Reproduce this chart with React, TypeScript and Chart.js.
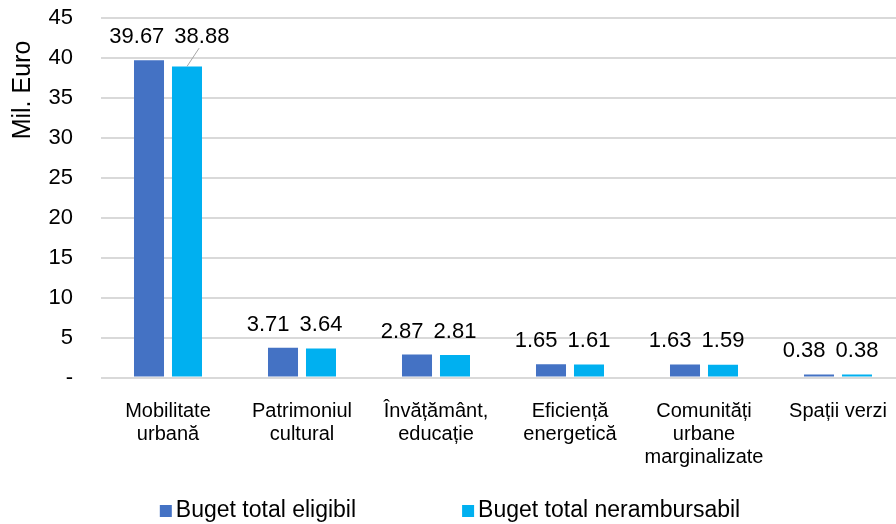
import React, { useEffect, useRef } from "react";
import { Chart, registerables } from "chart.js";

Chart.register(...registerables);

const categories: string[][] = [
  ["Mobilitate", "urbană"],
  ["Patrimoniul", "cultural"],
  ["Învățământ,", "educație"],
  ["Eficiență", "energetică"],
  ["Comunități", "urbane", "marginalizate"],
  ["Spații verzi"],
];
const bugetEligibil = [39.67, 3.71, 2.87, 1.65, 1.63, 0.38];
const bugetNerambursabil = [38.88, 3.64, 2.81, 1.61, 1.59, 0.38];
const seriesNames = ["Buget total eligibil", "Buget total nerambursabil"];
const seriesColors = ["#4472C4", "#00B0F0"];
const yMin = 0;
const yMax = 45;
const yStep = 5;
const yTitle = "Mil. Euro";

const FONT = '"Liberation Sans", Arial, sans-serif';

const valueLabelsPlugin = {
  id: "valueLabels",
  afterDatasetsDraw(chart: any) {
    const ctx = chart.ctx;
    const m0 = chart.getDatasetMeta(0);
    const m1 = chart.getDatasetMeta(1);
    const d0 = chart.data.datasets[0].data as number[];
    const d1 = chart.data.datasets[1].data as number[];
    ctx.save();
    ctx.font = `22px ${FONT}`;
    ctx.fillStyle = "#000";
    ctx.textAlign = "center";
    ctx.textBaseline = "alphabetic";
    m0.data.forEach((b0: any, i: number) => {
      const b1 = m1.data[i];
      const t0 = d0[i].toFixed(2);
      const t1 = d1[i].toFixed(2);
      const w0 = ctx.measureText(t0).width;
      const w1 = ctx.measureText(t1).width;
      const y = Math.min(b0.y, b1.y) - 17;
      let x0 = b0.x;
      let x1 = b1.x;
      const need = (w0 + w1) / 2 + 10 - (x1 - x0);
      let leader = false;
      if (need > 0) {
        if (need > 24) {
          x0 -= need * 0.45;
          x1 += need * 0.55;
          leader = true;
        } else {
          x0 -= need;
        }
      }
      ctx.fillText(t0, x0, y);
      ctx.fillText(t1, x1, y);
      if (leader) {
        ctx.strokeStyle = "#A6A6A6";
        ctx.lineWidth = 1;
        ctx.beginPath();
        ctx.moveTo(b1.x, b1.y);
        ctx.lineTo(x1 - w1 * 0.05, y + 5);
        ctx.stroke();
      }
    });
    ctx.restore();
  },
};

const legendAndTitlePlugin = {
  id: "legendAndTitle",
  afterDraw(chart: any) {
    const ctx = chart.ctx;
    ctx.save();
    // y-axis title
    ctx.font = `25px ${FONT}`;
    ctx.fillStyle = "#000";
    ctx.textAlign = "center";
    ctx.textBaseline = "middle";
    ctx.translate(23, 90);
    ctx.rotate(-Math.PI / 2);
    ctx.fillText(yTitle, 0, 0);
    ctx.setTransform(1, 0, 0, 1, 0, 0);

    // legend
    ctx.font = `23px ${FONT}`;
    ctx.textAlign = "left";
    ctx.textBaseline = "middle";
    const box = 12;
    const gapText = 4;
    const gapItems = 106;
    const widths = seriesNames.map((n) => ctx.measureText(n).width);
    const total =
      widths.reduce((a, w) => a + box + gapText + w, 0) + gapItems * (seriesNames.length - 1);
    let x = 450 - total / 2;
    const y = 511;
    seriesNames.forEach((n, i) => {
      ctx.fillStyle = seriesColors[i];
      ctx.fillRect(x, y - box / 2, box, box);
      ctx.fillStyle = "#000";
      ctx.fillText(n, x + box + gapText, y);
      x += box + gapText + widths[i] + gapItems;
    });
    ctx.restore();
  },
};

export default function App() {
  const ref = useRef<HTMLCanvasElement | null>(null);
  useEffect(() => {
    if (!ref.current) return;
    const chart = new Chart(ref.current, {
      type: "bar",
      data: {
        labels: categories,
        datasets: [
          {
            label: seriesNames[0],
            data: bugetEligibil,
            backgroundColor: seriesColors[0],
            barPercentage: 0.79,
            categoryPercentage: 0.567,
          },
          {
            label: seriesNames[1],
            data: bugetNerambursabil,
            backgroundColor: seriesColors[1],
            barPercentage: 0.79,
            categoryPercentage: 0.567,
          },
        ],
      },
      options: {
        responsive: false,
        animation: false,
        layout: { padding: { top: 17.5, right: 1, left: 0, bottom: 0 } },
        plugins: {
          legend: { display: false },
          tooltip: { enabled: false },
        },
        scales: {
          x: {
            grid: { display: false },
            border: { display: false },
            ticks: {
              color: "#000",
              font: { size: 20, family: FONT, lineHeight: 1.15 },
              padding: 14,
              maxRotation: 0,
              minRotation: 0,
              autoSkip: false,
            },
            afterFit: (s: any) => {
              s.height = 146.5;
            },
          },
          y: {
            min: yMin,
            max: yMax,
            ticks: {
              stepSize: yStep,
              padding: 0,
              color: "#000",
              font: { size: 22, family: FONT },
              callback: (v: any) => (Number(v) === 0 ? "-" : String(v)),
            },
            grid: {
              color: "#D9D9D9",
              lineWidth: 2,
              drawTicks: true,
              tickLength: 28,
              tickColor: "rgba(0,0,0,0)",
            },
            border: { display: false },
            afterFit: (s: any) => {
              s.width = 101;
            },
          },
        },
      },
      plugins: [valueLabelsPlugin, legendAndTitlePlugin],
    } as any);
    return () => chart.destroy();
  }, []);
  return (
    <div
      style={{
        position: "fixed",
        left: 0,
        top: 0,
        width: 896,
        height: 524,
        overflow: "hidden",
        background: "#fff",
      }}
    >
      <canvas ref={ref} width={906} height={524} style={{ display: "block" }} />
    </div>
  );
}
